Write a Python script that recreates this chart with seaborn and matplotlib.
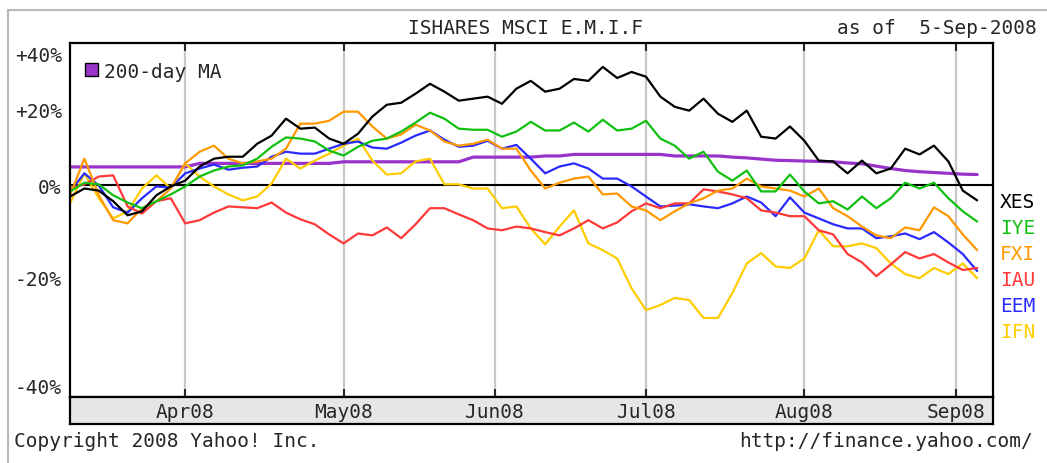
import numpy as np
import pandas as pd
import seaborn as sns
from matplotlib import pyplot as plt
from matplotlib.patches import Patch
from matplotlib.lines import Line2D
from matplotlib.ticker import FixedLocator, NullFormatter

# sessions on the chart (Mar 7 - Sep 5 2008), values read every 2nd session
holidays = ["2008-03-21", "2008-05-26", "2008-07-04", "2008-09-01"]
sessions = pd.bdate_range("2008-03-07", "2008-09-05")
sessions = sessions[~sessions.isin(pd.to_datetime(holidays))]
sample_days = np.arange(0, len(sessions), 2)

# % change since start
xes = [-2.7, -0.8, -1.3, -3.8, -7.0, -6.1, -2.4, -0.3, 1.1, 4.6,
       6.6, 7.1, 7.1, 10.5, 12.7, 17.4, 14.6, 14.9, 11.9, 10.5,
       13.2, 18.0, 21.4, 22.0, 24.7, 27.7, 25.3, 22.6, 23.2, 23.8,
       21.7, 26.2, 28.6, 25.3, 26.2, 29.2, 28.6, 33.0, 29.5, 31.4,
       29.9, 23.8, 20.8, 19.7, 23.2, 18.8, 16.5, 19.7, 12.4, 11.9,
       15.2, 11.3, 6.1, 5.9, 2.9, 6.1, 2.9, 4.1, 9.2, 7.7,
       10.0, 5.9, -1.3, -3.6]
iye = [-1.5, 0.6, 0.2, -2.4, -4.1, -5.4, -3.8, -2.2, -0.3, 2.1,
       3.6, 4.6, 4.9, 6.6, 9.7, 12.2, 11.9, 11.1, 8.7, 7.4,
       9.7, 11.3, 11.9, 13.8, 16.3, 19.1, 17.4, 14.6, 14.3, 14.3,
       12.4, 13.8, 16.5, 14.1, 14.1, 16.3, 13.8, 17.1, 14.1, 14.6,
       16.8, 11.9, 10.0, 6.6, 8.4, 3.3, 1.1, 3.6, -1.5, -1.5,
       2.6, -1.5, -4.3, -3.8, -5.7, -2.7, -5.4, -3.1, 0.6, -0.8,
       0.6, -3.1, -6.1, -8.4]
fxi = [-2.4, 6.6, -2.4, -8.1, -8.8, -5.4, -3.8, -0.8, 5.4, 8.4,
       10.0, 6.6, 5.4, 5.9, 6.6, 9.2, 16.0, 16.0, 16.8, 19.4,
       19.4, 15.2, 11.9, 13.0, 15.7, 14.1, 11.1, 10.0, 10.5, 11.6,
       9.2, 9.2, 3.6, -0.8, 0.6, 1.6, 2.1, -2.2, -2.0, -5.0,
       -5.9, -8.1, -6.1, -4.3, -3.1, -1.3, -0.8, 1.6, -0.3, -0.8,
       -1.3, -2.7, -0.8, -5.4, -7.2, -9.5, -11.4, -12.0, -9.7, -10.3,
       -5.2, -7.2, -11.2, -14.5]
iau = [-0.8, 0.2, 2.1, 2.4, -5.0, -6.6, -3.8, -3.1, -8.8, -8.1,
       -6.4, -5.0, -5.2, -5.4, -4.1, -6.4, -7.9, -9.0, -11.2, -13.1,
       -11.0, -11.4, -9.7, -12.0, -9.0, -5.4, -5.4, -6.8, -8.1, -9.9,
       -10.3, -9.5, -9.9, -10.7, -11.4, -9.9, -8.1, -9.9, -8.6, -6.1,
       -4.3, -5.4, -4.3, -4.3, -1.0, -1.5, -2.2, -3.1, -5.9, -6.4,
       -7.2, -7.2, -10.3, -11.2, -15.3, -17.0, -19.7, -17.4, -14.9, -16.2,
       -15.3, -17.0, -18.5, -18.1]
eem = [-1.5, 2.9, -0.1, -5.2, -6.4, -3.1, -0.3, -0.6, 2.9, 4.1,
       5.1, 3.8, 4.3, 4.6, 7.1, 8.4, 7.9, 7.9, 9.2, 10.5,
       11.1, 9.5, 9.2, 10.8, 12.7, 14.1, 11.6, 9.7, 10.0, 11.3,
       9.2, 10.2, 6.6, 2.9, 4.6, 5.4, 4.1, 1.6, 1.6, -0.3,
       -2.7, -5.0, -4.8, -4.5, -5.0, -5.4, -4.3, -2.7, -4.1, -7.2,
       -2.9, -6.4, -7.7, -9.0, -9.9, -9.9, -12.0, -11.6, -11.0, -12.2,
       -10.7, -12.9, -15.3, -18.7]
ifn = [-4.3, 2.9, -3.1, -7.7, -6.1, -0.8, 2.4, -0.8, 5.4, 2.1,
       -0.3, -2.2, -3.6, -2.7, 0.4, 6.6, 4.1, 6.1, 7.9, 10.0,
       11.9, 6.1, 2.6, 2.9, 5.9, 6.6, 0.2, 0.2, -0.8, -0.8,
       -5.4, -5.0, -9.9, -13.3, -9.5, -5.9, -13.1, -14.5, -16.2, -22.0,
       -26.0, -25.1, -23.8, -24.2, -27.4, -27.4, -22.9, -17.2, -15.1, -17.8,
       -18.1, -16.2, -10.3, -13.7, -13.7, -13.1, -14.1, -17.2, -19.3, -20.1,
       -18.1, -19.3, -17.2, -20.1]
ma200 = [4.5, 4.5, 4.5, 4.5, 4.5, 4.5, 4.5, 4.5, 4.5, 5.4,
         5.4, 5.4, 5.4, 5.4, 5.4, 5.4, 5.4, 5.4, 5.4, 5.8,
         5.8, 5.8, 5.8, 5.8, 5.8, 5.8, 5.8, 5.8, 7.0, 7.0,
         7.0, 7.0, 7.0, 7.3, 7.3, 7.7, 7.7, 7.7, 7.7, 7.7,
         7.7, 7.7, 7.3, 7.3, 7.3, 7.3, 7.0, 6.8, 6.5, 6.2,
         6.1, 6.0, 5.9, 5.8, 5.5, 5.3, 4.7, 4.1, 3.6, 3.3,
         3.1, 2.9, 2.7, 2.6]

symbols = ["XES", "IYE", "FXI", "IAU", "EEM", "IFN"]
series = [xes, iye, fxi, iau, eem, ifn]
palette = {"XES": "#000000", "IYE": "#10c010", "FXI": "#ff9900",
           "IAU": "#ff3838", "EEM": "#2a2aff", "IFN": "#ffcc00"}
ytick_vals = [-40, -20, 0, 20, 40]
ytick_labels = ["-40%", "-20%", "0%", "+20%", "+40%"]

df = pd.concat([pd.DataFrame({"day": sample_days, "change": v, "symbol": s})
                for s, v in zip(symbols, series)])
df["ratio"] = 1 + df["change"] / 100
ma_df = pd.DataFrame({"day": sample_days, "ratio": 1 + np.array(ma200) / 100})

# first session of each month -> gridlines
month_first = pd.Series(np.arange(len(sessions)), index=sessions)
month_first = month_first.groupby(sessions.to_period("M")).first().iloc[1:]
month_pos = month_first.values
month_lab = [p.strftime("%b%y") for p in month_first.index]

sns.set_style("white")
mono = "DejaVu Sans Mono"
plt.rcParams["font.family"] = [mono, "DejaVu Sans"]
plt.rcParams["font.size"] = 14

W, H = 1047, 464
fig = plt.figure(figsize=(W / 100, H / 100), dpi=100)
ax = fig.add_axes([70 / W, 1 - 398 / H, 923 / W, 354 / H])
band = fig.add_axes([70 / W, 1 - 425 / H, 923 / W, 27 / H])

sns.lineplot(data=ma_df, x="day", y="ratio", color="#9933cc", linewidth=2.3,
             estimator=None, ax=ax)
sns.lineplot(data=df, x="day", y="ratio", hue="symbol",
             hue_order=symbols[::-1], palette=palette, linewidth=1.6,
             estimator=None, legend=False, ax=ax)

ax.set_yscale("log")
ax.set_ylim(0.6, 1.409)
ax.set_xlim(0, 128.2)
ax.set_xlabel("")
ax.set_ylabel("")

yt = [1 + v / 100 for v in ytick_vals]
ax.yaxis.set_major_locator(FixedLocator(yt))
ax.set_yticklabels(ytick_labels)
ax.yaxis.set_minor_locator(FixedLocator([yt[1], yt[3]]))
ax.yaxis.set_minor_formatter(NullFormatter())
ax.tick_params(axis="y", which="major", length=0, pad=6, labelsize=14)
ax.tick_params(axis="y", which="minor", direction="in", length=8, width=1.5,
               left=True, right=True)
ylabels = ax.get_yticklabels()
ylabels[0].set_va("bottom")
ylabels[-1].set_va("top")

ax.set_xticks(month_pos)
ax.tick_params(axis="x", direction="in", length=6, width=1.5, top=True,
               bottom=True, labelbottom=False)
ax.grid(axis="x", color="#c8c8c8", linewidth=1.6)
ax.grid(axis="y", which="minor", color="#c8c8c8", linewidth=1.6)
ax.axhline(1.0, color="black", linewidth=1.5, zorder=1.5)
for s in ax.spines.values():
    s.set_linewidth(1.6)
    s.set_color("black")

ax.legend(handles=[Patch(facecolor="#9933cc", edgecolor="black", label="200-day MA")],
          loc="upper left", bbox_to_anchor=(0.006, 0.975), frameon=False,
          borderpad=0, handlelength=0.65, handleheight=0.65,
          handletextpad=0.3, fontsize=14)

band.set_facecolor("#e6e6e6")
band.set_xlim(ax.get_xlim())
band.set_xticks([])
band.set_yticks([])
for s in band.spines.values():
    s.set_linewidth(1.6)
    s.set_color("black")
for pos, lab in zip(month_pos, month_lab):
    band.text(pos, 0.45, lab, transform=band.get_xaxis_transform(),
              ha="center", va="center", fontsize=14)

# symbol key on the right
for i, s in enumerate(symbols):
    fig.text(1000 / W, 1 - (203 + 26 * i) / H, s, color=palette[s],
             ha="left", va="center", fontsize=14)

fig.text(526 / W, 1 - 28 / H, "ISHARES MSCI E.M.I.F", ha="center", va="center")
fig.text(1037 / W, 1 - 28 / H, "as of  5-Sep-2008", ha="right", va="center")
fig.text(14 / W, 1 - 442 / H, "Copyright 2008 Yahoo! Inc.", ha="left", va="center")
fig.text(1033 / W, 1 - 442 / H, "http://finance.yahoo.com/", ha="right", va="center")

fig.add_artist(Line2D([8 / W, 8 / W], [0, 1 - 11 / H], color="#b8b8b8", lw=1.5))
fig.add_artist(Line2D([8 / W, 1], [1 - 11 / H, 1 - 11 / H], color="#b8b8b8", lw=1.5))

fig.savefig("out.png", dpi=100, facecolor="white")
